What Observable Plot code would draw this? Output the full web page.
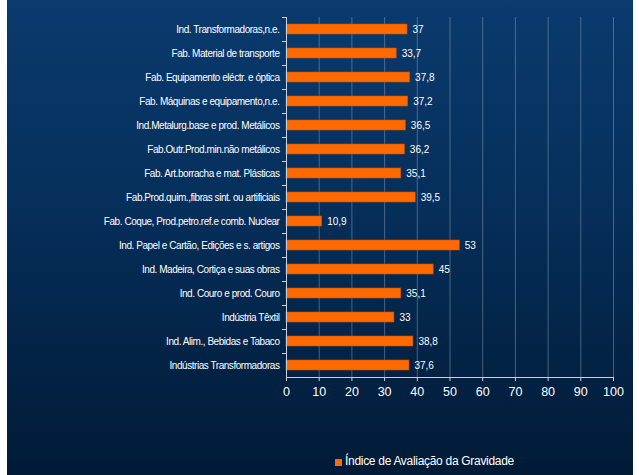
<!DOCTYPE html>
<html>
<head>
<meta charset="utf-8">
<script src="https://cdn.jsdelivr.net/npm/d3@7"></script>
<script src="https://cdn.jsdelivr.net/npm/@observablehq/plot@0.6"></script>
<style>
  html, body { margin: 0; padding: 0; background: #ffffff; }
  #panel {
    position: absolute; left: 7px; top: 0; width: 626px; height: 475px;
    background: linear-gradient(to bottom, #0a3a6e 0%, #06305c 40%, #011a36 100%);
    font-family: "Liberation Sans", Arial, sans-serif;
  }
  #chart { position: absolute; left: 0; top: 0; }
  #legend {
    position: absolute; left: 328px; top: 454px; color: #ffffff;
    font-size: 12px; letter-spacing: -0.3px; white-space: nowrap;
    display: flex; align-items: center;
  }
  #legend .sw { width: 7px; height: 7px; background: #ff6a00; margin-right: 3px; margin-top: 3px; }
</style>
</head>
<body>
<div id="panel">
  <div id="chart"></div>
  <div id="legend"><span class="sw"></span><span>Índice de Avaliação da Gravidade</span></div>
</div>
<script>
const categories = [
  "Ind. Transformadoras,n.e.",
  "Fab. Material de transporte",
  "Fab. Equipamento eléctr. e óptica",
  "Fab. Máquinas e equipamento,n.e.",
  "Ind.Metalurg.base e prod. Metálicos",
  "Fab.Outr.Prod.min.não metálicos",
  "Fab. Art.borracha e mat. Plásticas",
  "Fab.Prod.quim.,fibras sint. ou artificiais",
  "Fab. Coque, Prod.petro.ref.e comb. Nuclear",
  "Ind. Papel e Cartão, Edições e s. artigos",
  "Ind. Madeira, Cortiça e suas obras",
  "Ind. Couro e prod. Couro",
  "Indústria Têxtil",
  "Ind. Alim., Bebidas e Tabaco",
  "Indústrias Transformadoras"
];
const values = [37, 33.7, 37.8, 37.2, 36.5, 36.2, 35.1, 39.5, 10.9, 53, 45, 35.1, 33, 38.8, 37.6];
const xTicks = [0, 10, 20, 30, 40, 50, 60, 70, 80, 90, 100];
const seriesName = "Índice de Avaliação da Gravidade";

const data = categories.map((c, i) => ({category: c, value: values[i]}));
const fmt = v => String(v).replace(".", ",");

const plot = Plot.plot({
  width: 626,
  height: 407,
  marginLeft: 279,
  marginRight: 20,
  marginTop: 17,
  marginBottom: 30,
  style: {background: "transparent", color: "#ffffff", fontFamily: "Liberation Sans, Arial, sans-serif"},
  x: {domain: [0, 100], label: null},
  y: {domain: categories, paddingInner: 0.58, paddingOuter: 0.29, label: null},
  marks: [
    Plot.gridX(xTicks.filter(d => d > 0), {stroke: "#a9bdd4", strokeOpacity: 0.4, strokeWidth: 1}),
    Plot.barX(data, {x: "value", y: "category", fill: "#ff6a00", stroke: "#c85000", strokeWidth: 0.6}),
    Plot.text(data, {x: "value", y: "category", text: d => fmt(d.value), textAnchor: "start", dx: 5, fill: "#ffffff", fontSize: 10, style: "letter-spacing:-0.6px"}),
    Plot.axisX({ticks: xTicks, tickSize: 4, tickPadding: 6, fontSize: 12.5, stroke: "#c8d2de", tickFormat: d => d, label: null}),
    Plot.ruleY([0], {y: () => categories[categories.length - 1], dy: 12, stroke: "#c8d2de"}),
    Plot.axisY({tickSize: 0, tickPadding: 7, fontSize: 10, label: null}),
    Plot.axisY({tickSize: 4, text: null, dy: -12, stroke: "#c8d2de", label: null}),
    Plot.ruleX([0], {stroke: "#c8d2de"})
  ]
});
plot.querySelectorAll('[aria-label="y-axis tick label"] text').forEach(t => t.style.letterSpacing = "-0.45px");
document.getElementById("chart").appendChild(plot);
</script>
</body>
</html>
